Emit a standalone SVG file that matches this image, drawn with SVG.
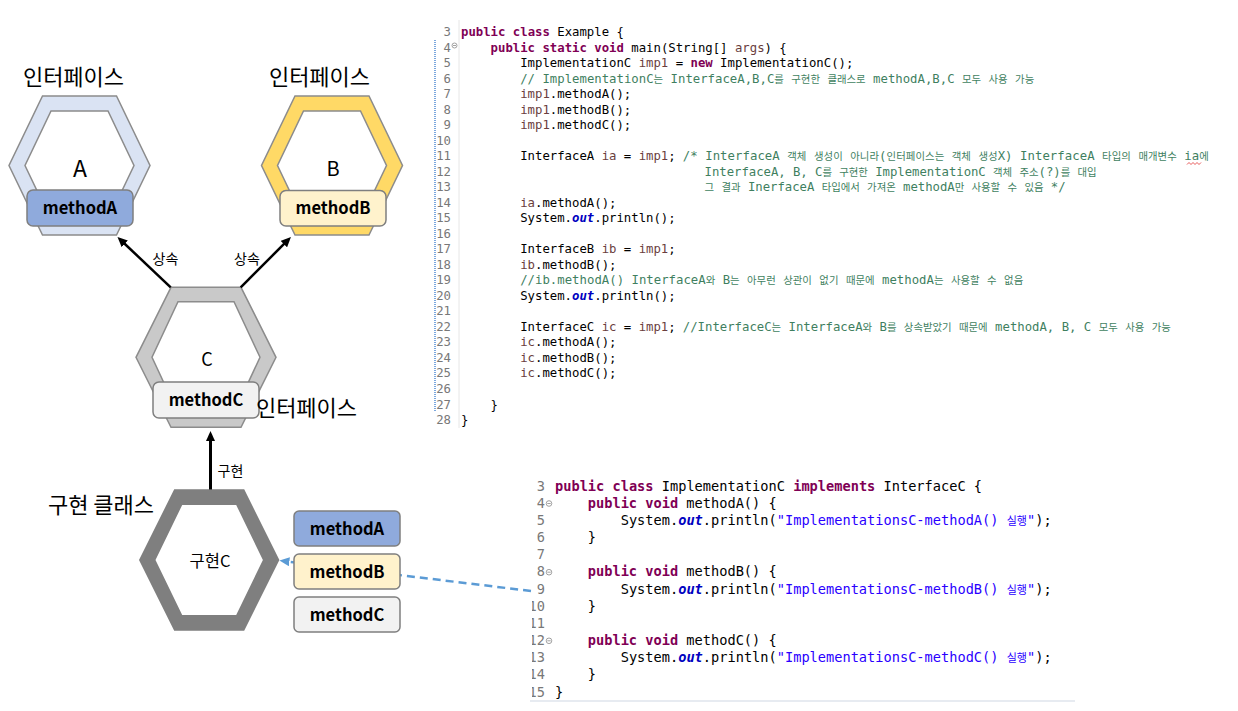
<svg xmlns="http://www.w3.org/2000/svg" width="1238" height="711" viewBox="0 0 1238 711">
<style>
.lbl{font-family:"Noto Sans CJK KR","Noto Sans",sans-serif;fill:#000}
.hx{stroke:#8c8c8c;stroke-width:1.5}
.inner{fill:#fff;stroke:#8c8c8c;stroke-width:1.5}
.box{stroke:#7f7f7f;stroke-width:1.5}
.mt{font-family:"Noto Sans CJK KR","Noto Sans",sans-serif;font-weight:bold;font-size:16.5px;text-anchor:middle;fill:#000}
.cd1{font-family:"DejaVu Sans Mono",monospace;font-size:12.3px;fill:#000;white-space:pre}
.cd2{font-family:"DejaVu Sans Mono",monospace;font-size:13.65px;fill:#000;white-space:pre}
.ln{fill:#787878}
.kw{fill:#7f0055;font-weight:bold}
.cm{fill:#3f7f5f}
.st{fill:#2a00ff}
.fd{fill:#0000c0;font-weight:bold;font-style:italic}
.vr{fill:#6a3e3e}
.k1{font-family:"Noto Sans CJK KR",sans-serif;font-size:10.4px}
.k2{font-family:"Noto Sans CJK KR",sans-serif;font-size:11px}
.fold{fill:#fff;stroke:#8a8a8a;stroke-width:0.8}
</style>
<defs>
<marker id="ah" viewBox="0 0 10 9" refX="2" refY="4.5" markerWidth="10" markerHeight="9" markerUnits="userSpaceOnUse" orient="auto"><path d="M0,0 L10,4.5 L0,9 z" fill="#000"/></marker>
<marker id="ahb" viewBox="0 0 10 9" refX="2" refY="4.5" markerWidth="10" markerHeight="9" markerUnits="userSpaceOnUse" orient="auto"><path d="M0,0 L10,4.5 L0,9 z" fill="#5b9bd5"/></marker>
<clipPath id="lnclip"><rect x="532" y="470" width="30" height="240"/></clipPath>
</defs>

<g id="interfaceA">
<text class="lbl" x="73.5" y="85" font-size="22" text-anchor="middle">인터페이스</text>
<polygon class="hx" fill="#dae3f3" points="42.5,96 116.5,96 150,165.5 116.5,235 42.5,235 9,165.5"/>
<polygon class="inner" points="51,111 108,111 134,165.5 108,220 51,220 25,165.5"/>
<text class="lbl" x="80" y="177" font-size="23" text-anchor="middle">A</text>
<rect class="box" x="27" y="190" width="106" height="36" rx="6" fill="#8faadc"/>
<text class="mt" x="80" y="214">methodA</text>
</g>

<g id="interfaceB">
<text class="lbl" x="319.5" y="85" font-size="22" text-anchor="middle">인터페이스</text>
<polygon class="hx" fill="#ffd966" points="295,96 369,96 402.5,165.5 369,235 295,235 261.5,165.5"/>
<polygon class="inner" points="303.5,111 360.5,111 386.5,165.5 360.5,220 303.5,220 277.5,165.5"/>
<text class="lbl" x="333" y="176" font-size="20" text-anchor="middle">B</text>
<rect class="box" x="280" y="190.5" width="106" height="35.5" rx="6" fill="#fff2cc"/>
<text class="mt" x="333" y="214">methodB</text>
</g>

<g id="interfaceC">
<polygon class="hx" fill="#c9c9c9" points="171,287.3 241,287.3 276,357.3 241,427.3 171,427.3 136,357.3"/>
<polygon class="inner" points="178,301.7 234,301.7 260,357.3 234,413 178,413 152,357.3"/>
<text class="lbl" x="207" y="366" font-size="18" text-anchor="middle">C</text>
<rect class="box" x="153" y="382" width="106" height="36" rx="6" fill="#f2f2f2"/>
<text class="mt" x="206" y="405.5">methodC</text>
<text class="lbl" x="306.5" y="416" font-size="22" text-anchor="middle">인터페이스</text>
</g>

<g id="implC">
<text class="lbl" x="101" y="513" font-size="22" text-anchor="middle">구현 클래스</text>
<path fill="#7f7f7f" fill-rule="evenodd" d="M174.2,489.3 L244.2,489.3 L279.4,560 L244.2,630.7 L174.2,630.7 L139,560 Z M182.2,505 L155.5,560 L182.2,615 L236.2,615 L262.9,560 L236.2,505 Z"/>
<text class="lbl" x="210" y="567" font-size="16.5" text-anchor="middle">구현C</text>
</g>

<g id="connectors">
<line x1="170.7" y1="287.3" x2="123.3" y2="242.5" stroke="#000" stroke-width="2.5" marker-end="url(#ah)"/>
<line x1="240.7" y1="287.3" x2="285.3" y2="242.7" stroke="#000" stroke-width="2.5" marker-end="url(#ah)"/>
<line x1="210.5" y1="489.5" x2="210.5" y2="439" stroke="#000" stroke-width="3" marker-end="url(#ah)"/>
<line x1="531" y1="591" x2="287.4" y2="561.5" stroke="#5b9bd5" stroke-width="2.5" stroke-dasharray="8 5" marker-end="url(#ahb)"/>
<text class="lbl" x="165.5" y="264" font-size="14" text-anchor="middle">상속</text>
<text class="lbl" x="247" y="264" font-size="14" text-anchor="middle">상속</text>
<text class="lbl" x="230.5" y="476" font-size="14" text-anchor="middle">구현</text>
</g>

<g id="implMethods">
<rect class="box" x="294" y="511" width="106" height="35" rx="5" fill="#8faadc"/>
<text class="mt" x="347" y="534.5">methodA</text>
<rect class="box" x="294" y="554" width="106" height="35" rx="5" fill="#fff2cc"/>
<text class="mt" x="347" y="577.5">methodB</text>
<rect class="box" x="294" y="597" width="106" height="35" rx="5" fill="#f2f2f2"/>
<text class="mt" x="347" y="620.5">methodC</text>
</g>

<g id="code-example">
<line x1="459" y1="20" x2="459" y2="428" stroke="#e6e6e6" stroke-width="1"/>
<line x1="435" y1="40" x2="435" y2="412" stroke="#7ba7dd" stroke-width="2" stroke-dasharray="1 1"/>
<text class="cd1 ln" text-anchor="end"><tspan x="451" y="36">3</tspan><tspan x="451" y="51.5">4</tspan><tspan x="451" y="67">5</tspan><tspan x="451" y="82.6">6</tspan><tspan x="451" y="98.1">7</tspan><tspan x="451" y="113.6">8</tspan><tspan x="451" y="129.1">9</tspan><tspan x="451" y="144.6">10</tspan><tspan x="451" y="160.2">11</tspan><tspan x="451" y="175.7">12</tspan><tspan x="451" y="191.2">13</tspan><tspan x="451" y="206.7">14</tspan><tspan x="451" y="222.2">15</tspan><tspan x="451" y="237.8">16</tspan><tspan x="451" y="253.3">17</tspan><tspan x="451" y="268.8">18</tspan><tspan x="451" y="284.3">19</tspan><tspan x="451" y="299.8">20</tspan><tspan x="451" y="315.4">21</tspan><tspan x="451" y="330.9">22</tspan><tspan x="451" y="346.4">23</tspan><tspan x="451" y="361.9">24</tspan><tspan x="451" y="377.4">25</tspan><tspan x="451" y="393">26</tspan><tspan x="451" y="408.5">27</tspan><tspan x="451" y="424">28</tspan></text>
<circle class="fold" cx="454.5" cy="45.5" r="2.5"/><line x1="453" y1="45.5" x2="456" y2="45.5" stroke="#8a8a8a" stroke-width="0.8"/>
<text class="cd1" x="461" y="36"><tspan class="kw">public class</tspan> Example {</text>
<text class="cd1" x="490.6" y="51.5"><tspan class="kw">public static void</tspan> main(String[] <tspan class="vr">args</tspan>) {</text>
<text class="cd1" x="520.2" y="67">ImplementationC <tspan class="vr">imp1</tspan> = <tspan class="kw">new</tspan> ImplementationC();</text>
<text class="cd1 cm" x="520.2" y="82.6" textLength="514" lengthAdjust="spacing">// ImplementationC<tspan class="k1">는</tspan> InterfaceA,B,C<tspan class="k1">를</tspan> <tspan class="k1">구현한</tspan> <tspan class="k1">클래스로</tspan> methodA,B,C <tspan class="k1">모두</tspan> <tspan class="k1">사용</tspan> <tspan class="k1">가능</tspan></text>
<text class="cd1" x="520.2" y="98.1"><tspan class="vr">imp1</tspan>.methodA();</text>
<text class="cd1" x="520.2" y="113.6"><tspan class="vr">imp1</tspan>.methodB();</text>
<text class="cd1" x="520.2" y="129.1"><tspan class="vr">imp1</tspan>.methodC();</text>
<text class="cd1" x="520.2" y="160.2">InterfaceA <tspan class="vr">ia</tspan> = <tspan class="vr">imp1</tspan>;</text>
<text class="cd1 cm" x="682.8" y="160.2" textLength="526" lengthAdjust="spacing">/* InterfaceA <tspan class="k1">객체</tspan> <tspan class="k1">생성이</tspan> <tspan class="k1">아니라</tspan>(<tspan class="k1">인터페이스는</tspan> <tspan class="k1">객체</tspan> <tspan class="k1">생성</tspan>X) InterfaceA <tspan class="k1">타입의</tspan> <tspan class="k1">매개변수</tspan> ia<tspan class="k1">에</tspan></text>
<polyline points="1187,164.5 1189,162.5 1191,164.5 1193,162.5 1195,164.5 1197,162.5 1199,164.5 1201,162.5" fill="none" stroke="#e03030" stroke-width="0.8"/>
<text class="cd1 cm" x="704.6" y="175.7" textLength="392" lengthAdjust="spacing">InterfaceA, B, C<tspan class="k1">를</tspan> <tspan class="k1">구현한</tspan> ImplementationC <tspan class="k1">객체</tspan> <tspan class="k1">주소</tspan>(?)<tspan class="k1">를</tspan> <tspan class="k1">대입</tspan></text>
<text class="cd1 cm" x="704.6" y="191.2" textLength="361" lengthAdjust="spacing"><tspan class="k1">그</tspan> <tspan class="k1">결과</tspan> InerfaceA <tspan class="k1">타입에서</tspan> <tspan class="k1">가져온</tspan> methodA<tspan class="k1">만</tspan> <tspan class="k1">사용할</tspan> <tspan class="k1">수</tspan> <tspan class="k1">있음</tspan> */</text>
<text class="cd1" x="520.2" y="206.7"><tspan class="vr">ia</tspan>.methodA();</text>
<text class="cd1" x="520.2" y="222.2">System.<tspan class="fd">out</tspan>.println();</text>
<text class="cd1" x="520.2" y="253.3">InterfaceB <tspan class="vr">ib</tspan> = <tspan class="vr">imp1</tspan>;</text>
<text class="cd1" x="520.2" y="268.8"><tspan class="vr">ib</tspan>.methodB();</text>
<text class="cd1 cm" x="520.2" y="284.3" textLength="503" lengthAdjust="spacing">//ib.methodA() InterfaceA<tspan class="k1">와</tspan> B<tspan class="k1">는</tspan> <tspan class="k1">아무런</tspan> <tspan class="k1">상관이</tspan> <tspan class="k1">없기</tspan> <tspan class="k1">때문에</tspan> methodA<tspan class="k1">는</tspan> <tspan class="k1">사용할</tspan> <tspan class="k1">수</tspan> <tspan class="k1">없음</tspan></text>
<text class="cd1" x="520.2" y="299.8">System.<tspan class="fd">out</tspan>.println();</text>
<text class="cd1" x="520.2" y="330.9">InterfaceC <tspan class="vr">ic</tspan> = <tspan class="vr">imp1</tspan>;</text>
<text class="cd1 cm" x="682.8" y="330.9" textLength="488" lengthAdjust="spacing">//InterfaceC<tspan class="k1">는</tspan> InterfaceA<tspan class="k1">와</tspan> B<tspan class="k1">를</tspan> <tspan class="k1">상속받았기</tspan> <tspan class="k1">때문에</tspan> methodA, B, C <tspan class="k1">모두</tspan> <tspan class="k1">사용</tspan> <tspan class="k1">가능</tspan></text>
<text class="cd1" x="520.2" y="346.4"><tspan class="vr">ic</tspan>.methodA();</text>
<text class="cd1" x="520.2" y="361.9"><tspan class="vr">ic</tspan>.methodB();</text>
<text class="cd1" x="520.2" y="377.4"><tspan class="vr">ic</tspan>.methodC();</text>
<text class="cd1" x="490.6" y="408.5">}</text>
<text class="cd1" x="461" y="424">}</text>
</g>

<g id="code-impl">
<text class="cd2 ln" text-anchor="end"><tspan x="545" y="490.5">3</tspan><tspan x="545" y="507.7">4</tspan><tspan x="545" y="524.8">5</tspan><tspan x="545" y="542">6</tspan><tspan x="545" y="559.2">7</tspan><tspan x="545" y="576.4">8</tspan><tspan x="545" y="593.5">9</tspan></text>
<text class="cd2 ln" text-anchor="end" clip-path="url(#lnclip)"><tspan x="545" y="610.7">10</tspan><tspan x="545" y="627.9">11</tspan><tspan x="545" y="645">12</tspan><tspan x="545" y="662.2">13</tspan><tspan x="545" y="679.4">14</tspan><tspan x="545" y="696.5">15</tspan></text>
<circle class="fold" cx="549" cy="503.5" r="2.8"/><line x1="547.3" y1="503.5" x2="550.7" y2="503.5" stroke="#8a8a8a" stroke-width="0.8"/>
<circle class="fold" cx="549" cy="572.2" r="2.8"/><line x1="547.3" y1="572.2" x2="550.7" y2="572.2" stroke="#8a8a8a" stroke-width="0.8"/>
<circle class="fold" cx="549" cy="640.8" r="2.8"/><line x1="547.3" y1="640.8" x2="550.7" y2="640.8" stroke="#8a8a8a" stroke-width="0.8"/>
<text class="cd2" x="555" y="490.5"><tspan class="kw">public class</tspan> ImplementationC <tspan class="kw">implements</tspan> InterfaceC {</text>
<text class="cd2" x="587.8" y="507.7"><tspan class="kw">public void</tspan> methodA() {</text>
<text class="cd2" x="620.7" y="524.8">System.<tspan class="fd">out</tspan>.println(<tspan class="st">"ImplementationsC-methodA() <tspan class="k2">실행</tspan>"</tspan>);</text>
<text class="cd2" x="587.8" y="542">}</text>
<text class="cd2" x="587.8" y="576.4"><tspan class="kw">public void</tspan> methodB() {</text>
<text class="cd2" x="620.7" y="593.5">System.<tspan class="fd">out</tspan>.println(<tspan class="st">"ImplementationsC-methodB() <tspan class="k2">실행</tspan>"</tspan>);</text>
<text class="cd2" x="587.8" y="610.7">}</text>
<text class="cd2" x="587.8" y="645"><tspan class="kw">public void</tspan> methodC() {</text>
<text class="cd2" x="620.7" y="662.2">System.<tspan class="fd">out</tspan>.println(<tspan class="st">"ImplementationsC-methodC() <tspan class="k2">실행</tspan>"</tspan>);</text>
<text class="cd2" x="587.8" y="679.4">}</text>
<text class="cd2" x="555" y="696.5">}</text>
<line x1="530" y1="701" x2="1075" y2="701" stroke="#dfe5ec" stroke-width="1.5"/>
</g>
</svg>
